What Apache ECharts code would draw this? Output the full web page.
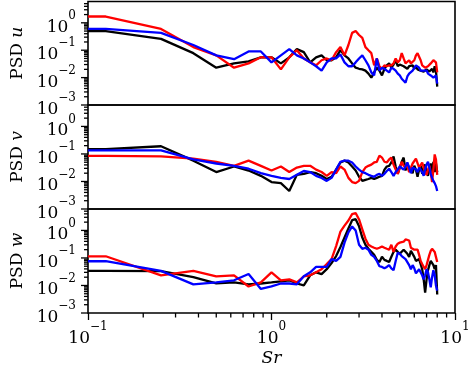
<!DOCTYPE html>
<html><head><meta charset="utf-8">
<script src="https://cdn.jsdelivr.net/npm/echarts@6/dist/echarts.min.js"></script>
<style>html,body{margin:0;padding:0;background:#fff}#c{width:474px;height:369px}</style>
</head><body><div id="c"></div>
<script>
// Strouhal number (x) values
const freq = [0.1, 0.125, 0.25, 0.375, 0.5, 0.625, 0.75, 0.875, 1, 1.125, 1.25, 1.375, 1.5, 1.625, 1.75, 1.875, 2,
  2.125, 2.25, 2.375, 2.5, 2.625, 2.75, 2.875, 3, 3.125, 3.25, 3.375, 3.5, 3.625, 3.75, 3.875, 4,
  4.125, 4.25, 4.375, 4.5, 4.625, 4.75, 4.875, 5, 5.125, 5.25, 5.375, 5.5, 5.625, 5.75, 5.875, 6,
  6.125, 6.25, 6.375, 6.5, 6.625, 6.75, 6.875, 7, 7.125, 7.25, 7.375, 7.5, 7.625, 7.75, 7.875, 8];

// PSD u
const uBlack = [0.5, 0.5, 0.26, 0.078, 0.023, 0.033, 0.039, 0.055, 0.055, 0.033, 0.055, 0.11, 0.085, 0.036, 0.055, 0.065, 0.043, 0.043, 0.055, 0.1, 0.065,
  0.05, 0.033, 0.023, 0.021, 0.02, 0.018, 0.014, 0.01, 0.0155, 0.023, 0.018, 0.012, 0.021, 0.028, 0.033, 0.023, 0.03, 0.043, 0.026, 0.03,
  0.033, 0.026, 0.03, 0.021, 0.026, 0.023, 0.028, 0.021, 0.026, 0.02, 0.023, 0.018, 0.021, 0.0166, 0.0155, 0.02, 0.021, 0.0166, 0.018, 0.021,
  0.0155, 0.026, 0.018, 0.0047];
const uRed = [1.7, 1.7, 0.6, 0.13, 0.065, 0.023, 0.033, 0.055, 0.055, 0.02, 0.055, 0.1, 0.05, 0.036, 0.028, 0.043, 0.05, 0.043, 0.085, 0.13, 0.065,
  0.155, 0.43, 0.5, 0.36, 0.28, 0.13, 0.1, 0.078, 0.028, 0.05, 0.026, 0.021, 0.028, 0.026, 0.028, 0.028, 0.033, 0.05, 0.036, 0.043,
  0.078, 0.05, 0.033, 0.036, 0.043, 0.033, 0.028, 0.043, 0.065, 0.078, 0.085, 0.043, 0.028, 0.026, 0.023, 0.023, 0.026, 0.028, 0.033, 0.033,
  0.043, 0.05, 0.036, 0.0155];
const uBlue = [0.6, 0.6, 0.43, 0.155, 0.065, 0.047, 0.09, 0.09, 0.036, 0.065, 0.11, 0.065, 0.05, 0.036, 0.026,
  0.018, 0.036, 0.05, 0.05, 0.07, 0.036, 0.026, 0.026, 0.036, 0.05, 0.065, 0.043, 0.028, 0.0155, 0.012, 0.05, 0.018, 0.023, 0.021, 0.018,
  0.0155, 0.023, 0.021, 0.018, 0.014, 0.012, 0.0091, 0.0078, 0.0065, 0.011, 0.014, 0.0155, 0.018, 0.021, 0.028, 0.033, 0.023, 0.018, 0.0155, 0.018,
  0.021, 0.018, 0.014, 0.013, 0.012, 0.011, 0.01, 0.0091, 0.012, 0.006];

// PSD v
const vBlack = [0.15, 0.15, 0.19, 0.057, 0.022, 0.035, 0.025, 0.016, 0.0095, 0.0087, 0.0045, 0.0174, 0.019, 0.022, 0.02, 0.016, 0.0123, 0.0148, 0.027, 0.049, 0.057,
  0.049, 0.035, 0.025, 0.0148, 0.0105, 0.0115, 0.0123, 0.0135, 0.0123, 0.0135, 0.0148, 0.016, 0.027, 0.035, 0.037, 0.049, 0.081, 0.035, 0.019, 0.032,
  0.052, 0.074, 0.025, 0.041, 0.045, 0.027, 0.02, 0.037, 0.027, 0.0148, 0.027, 0.037, 0.019, 0.032, 0.041, 0.022, 0.016, 0.032, 0.045, 0.019,
  0.052, 0.022, 0.045, 0.022];
const vRed = [0.085, 0.085, 0.081, 0.068, 0.052, 0.037, 0.057, 0.037, 0.025, 0.035, 0.022, 0.032, 0.037, 0.037, 0.027, 0.022, 0.016, 0.022, 0.02, 0.035, 0.027,
  0.0135, 0.0095, 0.0087, 0.0105, 0.022, 0.032, 0.037, 0.041, 0.049, 0.052, 0.087, 0.074, 0.052, 0.049, 0.063, 0.074, 0.041, 0.027, 0.019, 0.032,
  0.052, 0.037, 0.032, 0.035, 0.022, 0.019, 0.045, 0.052, 0.068, 0.063, 0.032, 0.035, 0.049, 0.032, 0.022, 0.0174, 0.027, 0.037, 0.022, 0.0095,
  0.027, 0.096, 0.063, 0.0174];
const vBlue = [0.135, 0.135, 0.135, 0.063, 0.045, 0.037, 0.029, 0.02, 0.016, 0.0135, 0.0123, 0.0174, 0.024, 0.022, 0.016,
  0.0135, 0.0105, 0.0135, 0.027, 0.052, 0.057, 0.057, 0.049, 0.035, 0.027, 0.022, 0.02, 0.0174, 0.016, 0.0148, 0.0174, 0.019, 0.016, 0.019, 0.024,
  0.029, 0.022, 0.016, 0.022, 0.027, 0.035, 0.037, 0.027, 0.035, 0.049, 0.032, 0.02, 0.032, 0.037, 0.027, 0.022, 0.032, 0.035, 0.022, 0.016,
  0.027, 0.041, 0.052, 0.032, 0.019, 0.0135, 0.0105, 0.0087, 0.0068, 0.0045];

// PSD w
const wBlack = [0.034, 0.034, 0.033, 0.02, 0.012, 0.0129, 0.011, 0.0118, 0.0129, 0.0141, 0.0154, 0.0118, 0.01, 0.0234, 0.03, 0.026, 0.039, 0.065, 0.117, 0.25, 0.55,
  1.17, 2.35, 2.57, 1.41, 0.55, 0.3, 0.215, 0.166, 0.129, 0.085, 0.071, 0.11, 0.085, 0.078, 0.071, 0.11, 0.166, 0.2, 0.166, 0.141,
  0.166, 0.2, 0.18, 0.141, 0.11, 0.18, 0.166, 0.11, 0.078, 0.071, 0.091, 0.06, 0.039, 0.0167, 0.0055, 0.0167, 0.036, 0.055, 0.078, 0.085,
  0.055, 0.039, 0.055, 0.0047];
const wRed = [0.115, 0.115, 0.0234, 0.034, 0.0215, 0.0234, 0.0092, 0.0129, 0.03, 0.0154, 0.0167, 0.0129, 0.0215, 0.0234, 0.03, 0.039, 0.06, 0.091, 0.27, 0.9, 1.5,
  2.3, 3.9, 4.3, 2.5, 1.1, 0.5, 0.3, 0.26, 0.235, 0.215, 0.235, 0.26, 0.235, 0.215, 0.2, 0.3, 0.166, 0.26, 0.33, 0.36,
  0.39, 0.39, 0.47, 0.5, 0.43, 0.235, 0.2, 0.2, 0.215, 0.2, 0.129, 0.078, 0.06, 0.047, 0.039, 0.055, 0.085, 0.129, 0.18, 0.215,
  0.2, 0.166, 0.18, 0.071];
const wBlue = [0.076, 0.076, 0.034, 0.011, 0.0129, 0.0154, 0.026, 0.0075, 0.0092, 0.0118, 0.0118, 0.011, 0.0215, 0.03, 0.047, 0.047, 0.047, 0.091, 0.078, 0.11, 0.36,
  0.85, 1.4, 1.0, 0.3, 0.215, 0.235, 0.2, 0.129, 0.11, 0.078, 0.05, 0.047, 0.042, 0.047, 0.055, 0.042, 0.036, 0.078, 0.155, 0.141,
  0.117, 0.11, 0.091, 0.085, 0.055, 0.039, 0.055, 0.042, 0.0275, 0.026, 0.039, 0.036, 0.0234, 0.0167, 0.0234, 0.039, 0.03, 0.0167, 0.0085, 0.02,
  0.036, 0.0234, 0.01, 0.0065];

const panelNames = ['u', 'v', 'w'];
const panelData = [[uBlack, uRed, uBlue], [vBlack, vRed, vBlue], [wBlack, wRed, wBlue]];
const lineColors = ['#000000', '#ff0000', '#0000ff'];

// axis ticks
const xRange = [0.1, 10];
const yRange = [0.001, 6];
const yTickMajor = [0.001, 0.01, 0.1, 1];
const yTickMinor = [0.002, 0.003, 0.004, 0.005, 0.006, 0.007, 0.008, 0.009,
  0.02, 0.03, 0.04, 0.05, 0.06, 0.07, 0.08, 0.09,
  0.2, 0.3, 0.4, 0.5, 0.6, 0.7, 0.8, 0.9,
  2, 3, 4, 5];
const xTickMinor = [0.2, 0.3, 0.4, 0.5, 0.6, 0.7, 0.8, 0.9, 2, 3, 4, 5, 6, 7, 8, 9];

const FONT = 'DejaVu Serif';
const gridTops = [1.5, 105, 209];
const gridHeights = [103.5, 104, 104];

function supLabel(v) {
  const e = Math.log10(v), r = Math.round(e);
  if (Math.abs(e - r) > 1e-6) return '';
  return '{b|10}{s|' + (r < 0 ? '\u2212' + (-r) : String(r)) + '}';
}
const supRich = {
  b: { fontFamily: FONT, fontSize: 17, lineHeight: 26, verticalAlign: 'bottom', color: '#000' },
  s: { fontFamily: FONT, fontSize: 12, verticalAlign: 'top', color: '#000' }
};

function yTickRender(params, api) {
  const p = api.coord([api.value(0), api.value(1)]);
  const len = api.value(2);
  return { type: 'line', shape: { x1: p[0] - len, y1: p[1], x2: p[0], y2: p[1] },
    style: { stroke: '#000', lineWidth: 1.3 } };
}
function xTickRender(params, api) {
  const p = api.coord([api.value(0), api.value(1)]);
  const len = api.value(2);
  return { type: 'line', shape: { x1: p[0], y1: p[1], x2: p[0], y2: p[1] + len },
    style: { stroke: '#000', lineWidth: 1.3 } };
}

const grids = [], xAxes = [], yAxes = [], series = [];
for (let i = 0; i < 3; i++) {
  grids.push({ left: 88, width: 367, top: gridTops[i], height: gridHeights[i], show: true,
    borderColor: '#000', borderWidth: 1.6, backgroundColor: 'transparent', containLabel: false });
  const bottom = i === 2;
  xAxes.push({
    type: 'log', logBase: 10, gridIndex: i, min: xRange[0], max: xRange[1],
    axisLine: { show: false }, splitLine: { show: false },
    axisTick: { show: bottom, length: 7, lineStyle: { color: '#000', width: 1.3 } },
    axisLabel: { show: bottom, formatter: supLabel, rich: supRich, margin: 8 },
    name: bottom ? '{i|Sr}' : '', nameLocation: 'middle', nameGap: 37,
    nameTextStyle: { rich: { i: { fontFamily: FONT, fontSize: 17, fontStyle: 'italic', color: '#000' } } }
  });
  yAxes.push({
    type: 'log', logBase: 10, gridIndex: i, min: yRange[0], max: yRange[1],
    axisLine: { show: false }, splitLine: { show: false }, axisTick: { show: false },
    axisLabel: { formatter: supLabel, rich: supRich, margin: 12, showMinLabel: true, showMaxLabel: true },
    name: '{n|PSD }{i|' + panelNames[i] + '}', nameLocation: 'middle', nameGap: 60,
    nameTextStyle: { rich: {
      n: { fontFamily: FONT, fontSize: 17, color: '#000' },
      i: { fontFamily: FONT, fontSize: 17, fontStyle: 'italic', color: '#000' } } }
  });
  panelData[i].forEach((arr, s) => {
    series.push({
      type: 'line', xAxisIndex: i, yAxisIndex: i, showSymbol: false, symbol: 'none',
      data: freq.map((f, j) => [f, arr[j]]),
      lineStyle: { color: lineColors[s], width: 2.3 }, itemStyle: { color: lineColors[s] },
      clip: true, animation: false, silent: true, z: 2 + s
    });
  });
  const yTicks = yTickMajor.map(v => [xRange[0], v, 7]).concat(yTickMinor.map(v => [xRange[0], v, 4]));
  series.push({ type: 'custom', xAxisIndex: i, yAxisIndex: i, data: yTicks, renderItem: yTickRender,
    clip: false, silent: true, animation: false, z: 10 });
  if (bottom) {
    series.push({ type: 'custom', xAxisIndex: i, yAxisIndex: i, data: xTickMinor.map(v => [v, yRange[0], 4.5]),
      renderItem: xTickRender, clip: false, silent: true, animation: false, z: 10 });
  }
}

const chart = echarts.init(document.getElementById('c'), null, { renderer: 'canvas' });
chart.setOption({
  animation: false, backgroundColor: '#fff',
  grid: grids, xAxis: xAxes, yAxis: yAxes, series: series
});
</script></body></html>
